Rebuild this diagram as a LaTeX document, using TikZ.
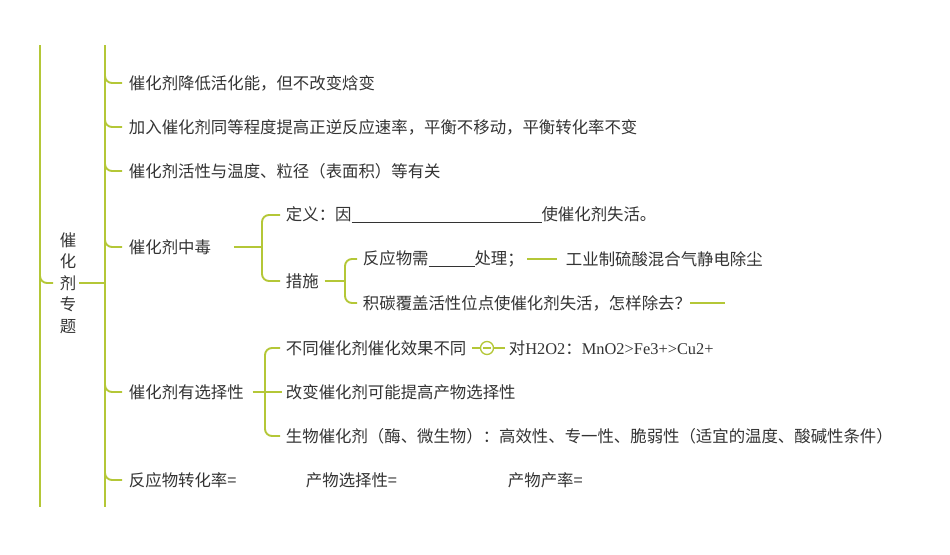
\documentclass[tikz,border=0pt]{standalone}
\usepackage{fontspec}
\setmainfont{Noto Sans CJK SC}
\newfontfamily\latinserif{Liberation Serif}
\usetikzlibrary{positioning}
\definecolor{branchgreen}{HTML}{B4C737}
\definecolor{leaftext}{HTML}{333333}

\begin{document}
\begin{tikzpicture}[x=1pt, y=-1pt, line width=1.9pt,
        leaf/.style ={anchor=west, inner sep=0pt, text=leaftext, font=\fontsize{16.4}{19}\selectfont},
        twig/.style ={draw=branchgreen, rounded corners=7pt}]
    \useasboundingbox (0,0) rectangle (950,554);

        % trunk
        \node[leaf, anchor=center, align=center, font=\fontsize{16.4}{21.5}\selectfont] (root) at (68,283) {催\\化\\剂\\专\\题};
        \coordinate (t1) at (40,45);
        \coordinate (t2) at (40,507);
        \draw[branchgreen] (t1) -- (t2);
        \draw[twig] (40,270) -- (40,283) -- (53,283);
        \coordinate (b1) at (105,45);
        \coordinate (b2) at (105,507);
        \draw[branchgreen] (b1) -- (b2);
        \draw[branchgreen] (root.east) ++(2,0) -- (105,283);

        % first level
        \node[leaf] (e1) at (128,83) {催化剂降低活化能，但不改变焓变};
        \node[leaf] (e2) at (128,127) {加入催化剂同等程度提高正逆反应速率，平衡不移动，平衡转化率不变};
        \node[leaf] (e3) at (128,171) {催化剂活性与温度、粒径（表面积）等有关};
        \node[leaf] (pois) at (128,247) {催化剂中毒};
        \node[leaf] (sel) at (128,392) {催化剂有选择性};
        \node[leaf] (conv) at (128,480) {反应物转化率=};
        \node[leaf] (psel) at (305,480) {产物选择性=};
        \node[leaf] (yld) at (507,480) {产物产率=};
        \foreach \n in {e1,e2,e3,pois,sel,conv}
            \draw[twig] (\n.west) ++(-6,0) -- ++(-17,0) -- ++(0,-12);

        % poisoning
        \node[leaf] (defn) at (285,215) {定义：因\underline{\hspace{190pt}}使催化剂失活。};
        \node[leaf] (meas) at (285,281) {措施};
        \draw[branchgreen] (pois.east) ++(22,0) -- ++(28,0);
        \draw[twig] (defn.west) ++(-5,0) -- (262,215) -- (262,281) -- ([xshift=-5pt]meas.west);
        \node[leaf] (pre) at (362,259) {反应物需\underline{\hspace{46pt}}处理；};
        \node[leaf] (dust) at (565,259) {工业制硫酸混合气静电除尘};
        \node[leaf] (coke) at (362,303) {积碳覆盖活性位点使催化剂失活，怎样除去？};
        \coordinate (cokeend) at (725,303);
        \draw[branchgreen] (meas.east) ++(5,0) -- (345,281);
        \draw[twig] (pre.west) ++(-5,0) -- (345,259) -- (345,303) -- ([xshift=-5pt]coke.west);
        \draw[branchgreen] (527,259) -- ([xshift=-8pt]dust.west);
        \draw[branchgreen] (coke.east) ++(-2,0) -- (cokeend);

        % selectivity
        \node[leaf] (diff) at (285,348) {不同催化剂催化效果不同};
        \node[leaf] (chg) at (285,392) {改变催化剂可能提高产物选择性};
        \node[leaf] (bio) at (285,436) {生物催化剂（酶、微生物）：高效性、专一性、脆弱性（适宜的温度、酸碱性条件）};
        \node[leaf] (h2o2) at (508,348) {对{\latinserif H2O2}：{\latinserif MnO2>Fe3+>Cu2+}};
        \draw[branchgreen] (sel.east) ++(8,0) -- (265,392) -- ([xshift=-3pt]chg.west);
        \draw[twig] (diff.west) ++(-5,0) -- (265,348) -- (265,436) -- ([xshift=-5pt]bio.west);
        \node[circle, draw=branchgreen, line width=1.3pt, minimum size=13pt, inner sep=0pt] (knot) at (487,348) {};
        \draw[branchgreen] (diff.east) ++(5,0) -- (knot.west);
        \draw[branchgreen] (knot.east) -- ([xshift=-3pt]h2o2.west);
        \draw[branchgreen, line width=1.3pt] (knot.180) ++(3,0) -- ([xshift=-3pt]knot.east);
    \end{tikzpicture}
\end{document}
